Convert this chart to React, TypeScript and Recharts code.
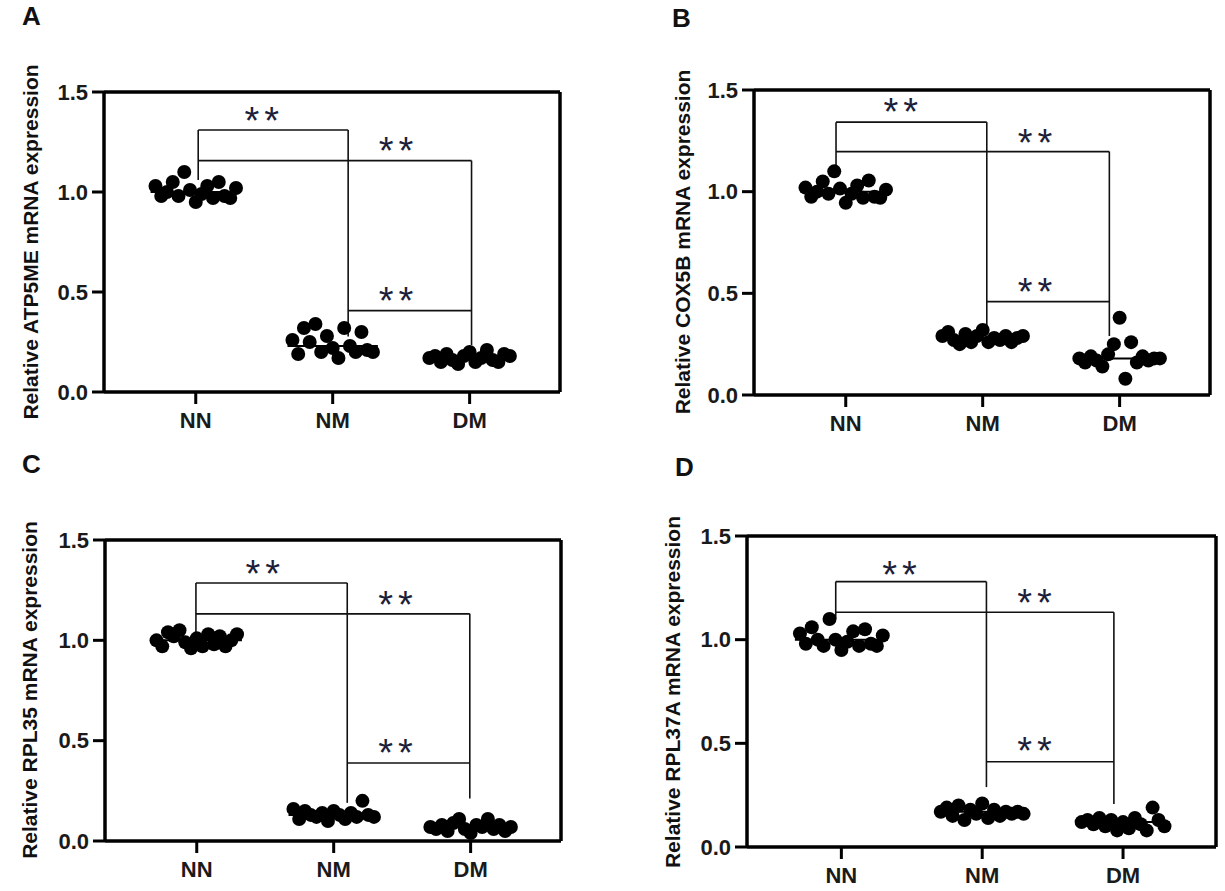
import { ScatterChart, Scatter, XAxis, YAxis, ReferenceLine } from 'recharts'

const GROUPS = ['NN', 'NM', 'DM']
const Y_TICKS = [0, 0.5, 1.0, 1.5]
const X_TICKS = [1, 2, 3]
const X_DOMAIN: [number, number] = [0.33, 3.66]

// values listed left to right as they sit in each dot cluster
const A_NN = [1.03, 0.98, 1.0, 1.05, 0.98, 1.1, 1.01, 0.95, 0.99, 1.03, 0.97, 1.05, 0.98, 0.97, 1.02]
const A_NM = [0.26, 0.19, 0.32, 0.25, 0.34, 0.2, 0.28, 0.22, 0.17, 0.32, 0.23, 0.2, 0.3, 0.21, 0.2]
const A_DM = [0.17, 0.18, 0.15, 0.19, 0.16, 0.14, 0.18, 0.2, 0.15, 0.17, 0.21, 0.16, 0.15, 0.19, 0.18]

const B_NN = [1.02, 0.975, 1.0, 1.05, 0.99, 1.1, 1.015, 0.945, 0.99, 1.03, 0.97, 1.055, 0.975, 0.97, 1.01]
const B_NM = [0.29, 0.31, 0.27, 0.25, 0.3, 0.26, 0.29, 0.32, 0.26, 0.28, 0.27, 0.29, 0.26, 0.28, 0.29]
const B_DM = [0.18, 0.16, 0.19, 0.17, 0.14, 0.2, 0.25, 0.38, 0.08, 0.26, 0.16, 0.19, 0.17, 0.18, 0.18]

const C_NN = [1.0, 0.97, 1.04, 1.02, 1.05, 0.99, 0.96, 1.01, 0.97, 1.03, 0.98, 1.02, 0.97, 1.0, 1.03]
const C_NM = [0.16, 0.11, 0.15, 0.13, 0.12, 0.14, 0.1, 0.15, 0.13, 0.11, 0.14, 0.12, 0.2, 0.13, 0.12]
const C_DM = [0.07, 0.06, 0.08, 0.05, 0.09, 0.11, 0.06, 0.04, 0.08, 0.07, 0.11, 0.06, 0.08, 0.05, 0.07]

const D_NN = [1.03, 0.98, 1.06, 1.0, 0.97, 1.1, 1.0, 0.95, 0.99, 1.04, 0.97, 1.05, 0.98, 0.97, 1.02]
const D_NM = [0.17, 0.19, 0.15, 0.2, 0.13, 0.18, 0.16, 0.21, 0.14, 0.18, 0.15, 0.17, 0.16, 0.17, 0.16]
const D_DM = [0.12, 0.13, 0.11, 0.14, 0.1, 0.13, 0.08, 0.12, 0.09, 0.14, 0.11, 0.08, 0.19, 0.13, 0.1]

// significance brackets: x of NN/NM/DM legs, bar levels, leg ends, "**" spots
const A_BRACKET = { x: [1.018, 2.113, 3.014], top: 1.31, mid: 1.157, low: 0.407, ends: [1.06, 0.277, 0.235] }
const B_BRACKET = { x: [0.929, 2.03, 2.925], top: 1.342, mid: 1.197, low: 0.459, ends: [1.13, 0.335, 0.29] }
const C_BRACKET = { x: [0.994, 2.099, 2.994], top: 1.286, mid: 1.132, low: 0.389, ends: [1.033, 0.19, 0.212] }
const D_BRACKET = { x: [0.96, 2.03, 2.935], top: 1.28, mid: 1.132, low: 0.411, ends: [1.1, 0.289, 0.207] }

const A_STARS = [{ x: 1.5, y: 1.4 }, { x: 2.48, y: 1.25 }, { x: 2.48, y: 0.5 }]
const B_STARS = [{ x: 1.42, y: 1.435 }, { x: 2.4, y: 1.285 }, { x: 2.4, y: 0.552 }]
const C_STARS = [{ x: 1.5, y: 1.377 }, { x: 2.47, y: 1.223 }, { x: 2.47, y: 0.482 }]
const D_STARS = [{ x: 1.43, y: 1.354 }, { x: 2.39, y: 1.22 }, { x: 2.39, y: 0.506 }]

const PANELS = [
  { letter: 'A', gene: 'ATP5ME', groups: [A_NN, A_NM, A_DM], bracket: A_BRACKET, stars: A_STARS },
  { letter: 'B', gene: 'COX5B', groups: [B_NN, B_NM, B_DM], bracket: B_BRACKET, stars: B_STARS },
  { letter: 'C', gene: 'RPL35', groups: [C_NN, C_NM, C_DM], bracket: C_BRACKET, stars: C_STARS },
  { letter: 'D', gene: 'RPL37A', groups: [D_NN, D_NM, D_DM], bracket: D_BRACKET, stars: D_STARS },
]

// plot boxes on the page, and where the letter / rotated title go
const LAYOUT = [
  { left: 104, top: 92, width: 456, height: 300, letter: [22, 25], title: [38, 242] },
  { left: 754, top: 90, width: 456, height: 305, letter: [672, 27], title: [690, 242] },
  { left: 105, top: 540, width: 456, height: 301, letter: [22, 473], title: [37, 690] },
  { left: 747, top: 536, width: 469, height: 311, letter: [675, 476], title: [680, 692] },
]

const FONT = '"Liberation Sans", Arial, sans-serif'
const SPREAD = 0.042
const PAD = { top: 40, right: 20, bottom: 20, left: 30 }
const Y_AXIS_W = 70
const X_AXIS_H = 50

const swarm = (values: number[], g: number) => {
  const mid = (values.length - 1) / 2
  return values.map((y, i) => ({ x: g + (i - mid) * SPREAD, y }))
}

const median = (v: number[]) => {
  const s = [...v].sort((a, b) => a - b)
  const m = Math.floor(s.length / 2)
  return s.length % 2 ? s[m] : (s[m - 1] + s[m]) / 2
}

const Dot = (p: any) => <circle cx={p.cx} cy={p.cy} r={7} fill="#000" />

const Stars = (p: any) => (
  <text
    x={p.cx}
    y={p.cy + 22}
    textAnchor="middle"
    fontSize={38}
    fontFamily={FONT}
    letterSpacing={5}
    fill="#1d1f3a"
  >
    **
  </text>
)

function Panel({ panel, box }: { panel: (typeof PANELS)[number]; box: (typeof LAYOUT)[number] }) {
  const { bracket: b } = panel
  const [nn, nm, dm] = b.x
  const segs = [
    [nn, b.top, nm, b.top],
    [nn, b.top, nn, b.ends[0]],
    [nm, b.top, nm, b.ends[1]],
    [nn, b.mid, dm, b.mid],
    [dm, b.mid, dm, b.ends[2]],
    [nm, b.low, dm, b.low],
  ]
  const w = PAD.left + Y_AXIS_W + box.width + PAD.right
  const h = PAD.top + box.height + X_AXIS_H + PAD.bottom
  return (
    <div style={{ position: 'absolute', left: box.left - PAD.left - Y_AXIS_W, top: box.top - PAD.top }}>
      <ScatterChart width={w} height={h} margin={PAD}>
        <XAxis
          type="number"
          dataKey="x"
          domain={X_DOMAIN}
          ticks={X_TICKS}
          allowDataOverflow
          tickFormatter={(v: number) => GROUPS[v - 1]}
          height={X_AXIS_H}
          axisLine={{ stroke: '#000', strokeWidth: 3.5 }}
          tickLine={{ stroke: '#000', strokeWidth: 3 }}
          tickSize={12}
          tickMargin={8}
          tick={{ fontSize: 22, fontWeight: 'bold', fill: '#1a1a1a', fontFamily: FONT }}
        />
        <YAxis
          type="number"
          dataKey="y"
          domain={[0, 1.5]}
          ticks={Y_TICKS}
          allowDataOverflow
          tickFormatter={(v: number) => v.toFixed(1)}
          width={Y_AXIS_W}
          axisLine={{ stroke: '#000', strokeWidth: 3.5 }}
          tickLine={{ stroke: '#000', strokeWidth: 3 }}
          tickSize={12}
          tickMargin={4}
          tick={{ fontSize: 22, fontWeight: 'bold', fill: '#1a1a1a', fontFamily: FONT }}
        />
        <ReferenceLine y={1.5} stroke="#000" strokeWidth={3.5} />
        <ReferenceLine x={X_DOMAIN[1]} stroke="#000" strokeWidth={3.5} />
        {segs.map(([x1, y1, x2, y2], i) => (
          <ReferenceLine
            key={'b' + i}
            segment={[{ x: x1, y: y1 }, { x: x2, y: y2 }]}
            stroke="#111"
            strokeWidth={1.6}
            ifOverflow="visible"
          />
        ))}
        {panel.groups.map((vals, g) => {
          const m = median(vals)
          return (
            <ReferenceLine
              key={'m' + g}
              segment={[{ x: g + 1 - 0.33, y: m }, { x: g + 1 + 0.33, y: m }]}
              stroke="#000"
              strokeWidth={2}
            />
          )
        })}
        {panel.groups.map((vals, g) => (
          <Scatter key={'s' + g} data={swarm(vals, g + 1)} shape={Dot} isAnimationActive={false} />
        ))}
        <Scatter data={panel.stars} shape={Stars} isAnimationActive={false} />
      </ScatterChart>
    </div>
  )
}

export default function App() {
  return (
    <div style={{ position: 'absolute', left: 0, top: 0, width: 1225, height: 891, background: '#fff', fontFamily: FONT }}>
      {PANELS.map((p, i) => (
        <Panel key={p.letter} panel={p} box={LAYOUT[i]} />
      ))}
      <svg width={1225} height={891} style={{ position: 'absolute', left: 0, top: 0, pointerEvents: 'none' }}>
        {PANELS.map((p, i) => {
          const L = LAYOUT[i]
          return (
            <g key={p.letter} fontFamily={FONT} fontWeight="bold" fill="#111">
              <text x={L.letter[0]} y={L.letter[1]} fontSize={26}>
                {p.letter}
              </text>
              <text
                x={L.title[0]}
                y={L.title[1]}
                fontSize={21}
                textAnchor="middle"
                transform={`rotate(-90 ${L.title[0]} ${L.title[1]})`}
              >
                {`Relative ${p.gene} mRNA expression`}
              </text>
            </g>
          )
        })}
      </svg>
    </div>
  )
}
